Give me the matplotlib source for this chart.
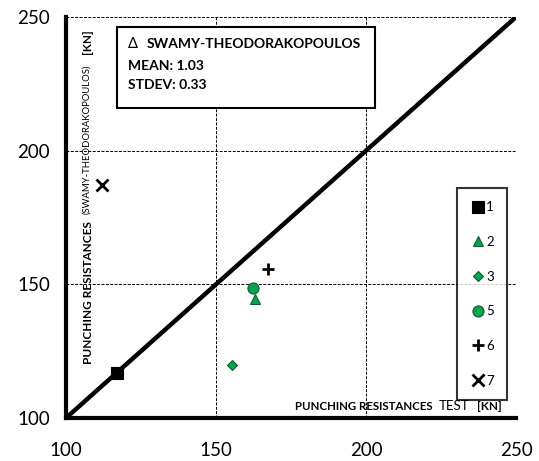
import numpy as np
import matplotlib.pyplot as plt

plt.rcParams['font.family'] = ['Lato', 'DejaVu Sans']

# data
labels = ['1', '2', '3', '5', '6', '7']
x_test = [117, 163, 155.5, 162.5, 167.5, 112]
y_calc = [117, 144.5, 120, 148.7, 155.6, 187]
markers = ['s', '^', 'D', 'o', '+', 'x']
colors = ['black', '#00a651', '#00a651', '#00a651', 'black', 'black']
sizes = [8, 7, 5.5, 8, 8, 8]
ticks = [100, 150, 200, 250]

fig = plt.figure(figsize=(5.39, 4.61), dpi=100)
ax = fig.add_axes([66/539, 1-418/461, 450/539, 401/461])

ax.set_xlim(100, 250)
ax.set_ylim(100, 250)
ax.set_xticks(ticks)
ax.set_yticks(ticks)
ax.tick_params(length=0, labelsize=13.5)
ax.tick_params(axis='x', pad=17)
ax.tick_params(axis='y', pad=11.5)
for s in ['top', 'right']:
    ax.spines[s].set_visible(False)
for s in ['left', 'bottom']:
    ax.spines[s].set_linewidth(3)
ax.grid(True, linestyle=(0, (3, 1.5)), color='black', linewidth=0.7)

ax.plot([100, 250], [100, 250], color='black', linewidth=3.2, zorder=3)

for xv, yv, m, c, s, lab in zip(x_test, y_calc, markers, colors, sizes, labels):
    ec = '#1a5a2a' if c != 'black' else 'black'
    ax.plot(xv, yv, linestyle='none', marker=m, color=c, markersize=s,
            markeredgecolor=ec if m not in '+x' else c,
            markeredgewidth=2 if m in '+x' else 0.8, label=lab, zorder=4)

leg = ax.legend(loc='lower right', bbox_to_anchor=(441/450, 18/401),
                handlelength=1.2, handletextpad=0.0, labelspacing=1.72,
                borderpad=1.0, borderaxespad=0, fontsize=9.5, frameon=True,
                fancybox=False, edgecolor='black')
leg.get_frame().set_linewidth(1.5)

# info box
ax.text(62/450, 374/401, '\u0394', transform=ax.transAxes, fontsize=10.5,
        va='center', zorder=6)
ax.text(81/450, 374/401, 'SWAMY-THEODORAKOPOULOS', transform=ax.transAxes,
        fontsize=10, fontweight='bold', va='center', zorder=6)
ax.text(62/450, 352/401, 'MEAN: 1.03', transform=ax.transAxes,
        fontsize=10, fontweight='bold', va='center', zorder=6)
ax.text(62/450, 333/401, 'STDEV: 0.33', transform=ax.transAxes,
        fontsize=10, fontweight='bold', va='center', zorder=6)
box = plt.Rectangle((51/450, 310/401), 258/450, 81/401, transform=ax.transAxes,
                    facecolor='white', edgecolor='black', linewidth=1.5, zorder=5)
ax.add_patch(box)

# y label inside
ax.text(22/450, 54/401, 'PUNCHING RESISTANCES', transform=ax.transAxes,
        rotation=90, fontsize=8.5, fontweight='bold', va='bottom', ha='center')
ax.text(21/450, 204/401, '(SWAMY-THEODORAKOPOULOS)', transform=ax.transAxes,
        rotation=90, fontsize=6.8, va='bottom', ha='center')
ax.text(22/450, 364/401, '[KN]', transform=ax.transAxes,
        rotation=90, fontsize=8.5, fontweight='bold', va='bottom', ha='center')

# x label inside
ax.text(229/450, 12/401, 'PUNCHING RESISTANCES', transform=ax.transAxes,
        fontsize=8.3, fontweight='bold', va='center', ha='left')
ax.text(373/450, 12/401, 'TEST', transform=ax.transAxes,
        fontsize=9.5, va='center', ha='left')
ax.text(411/450, 12/401, '[KN]', transform=ax.transAxes,
        fontsize=8.5, fontweight='bold', va='center', ha='left')

fig.savefig('out.png', dpi=100)
